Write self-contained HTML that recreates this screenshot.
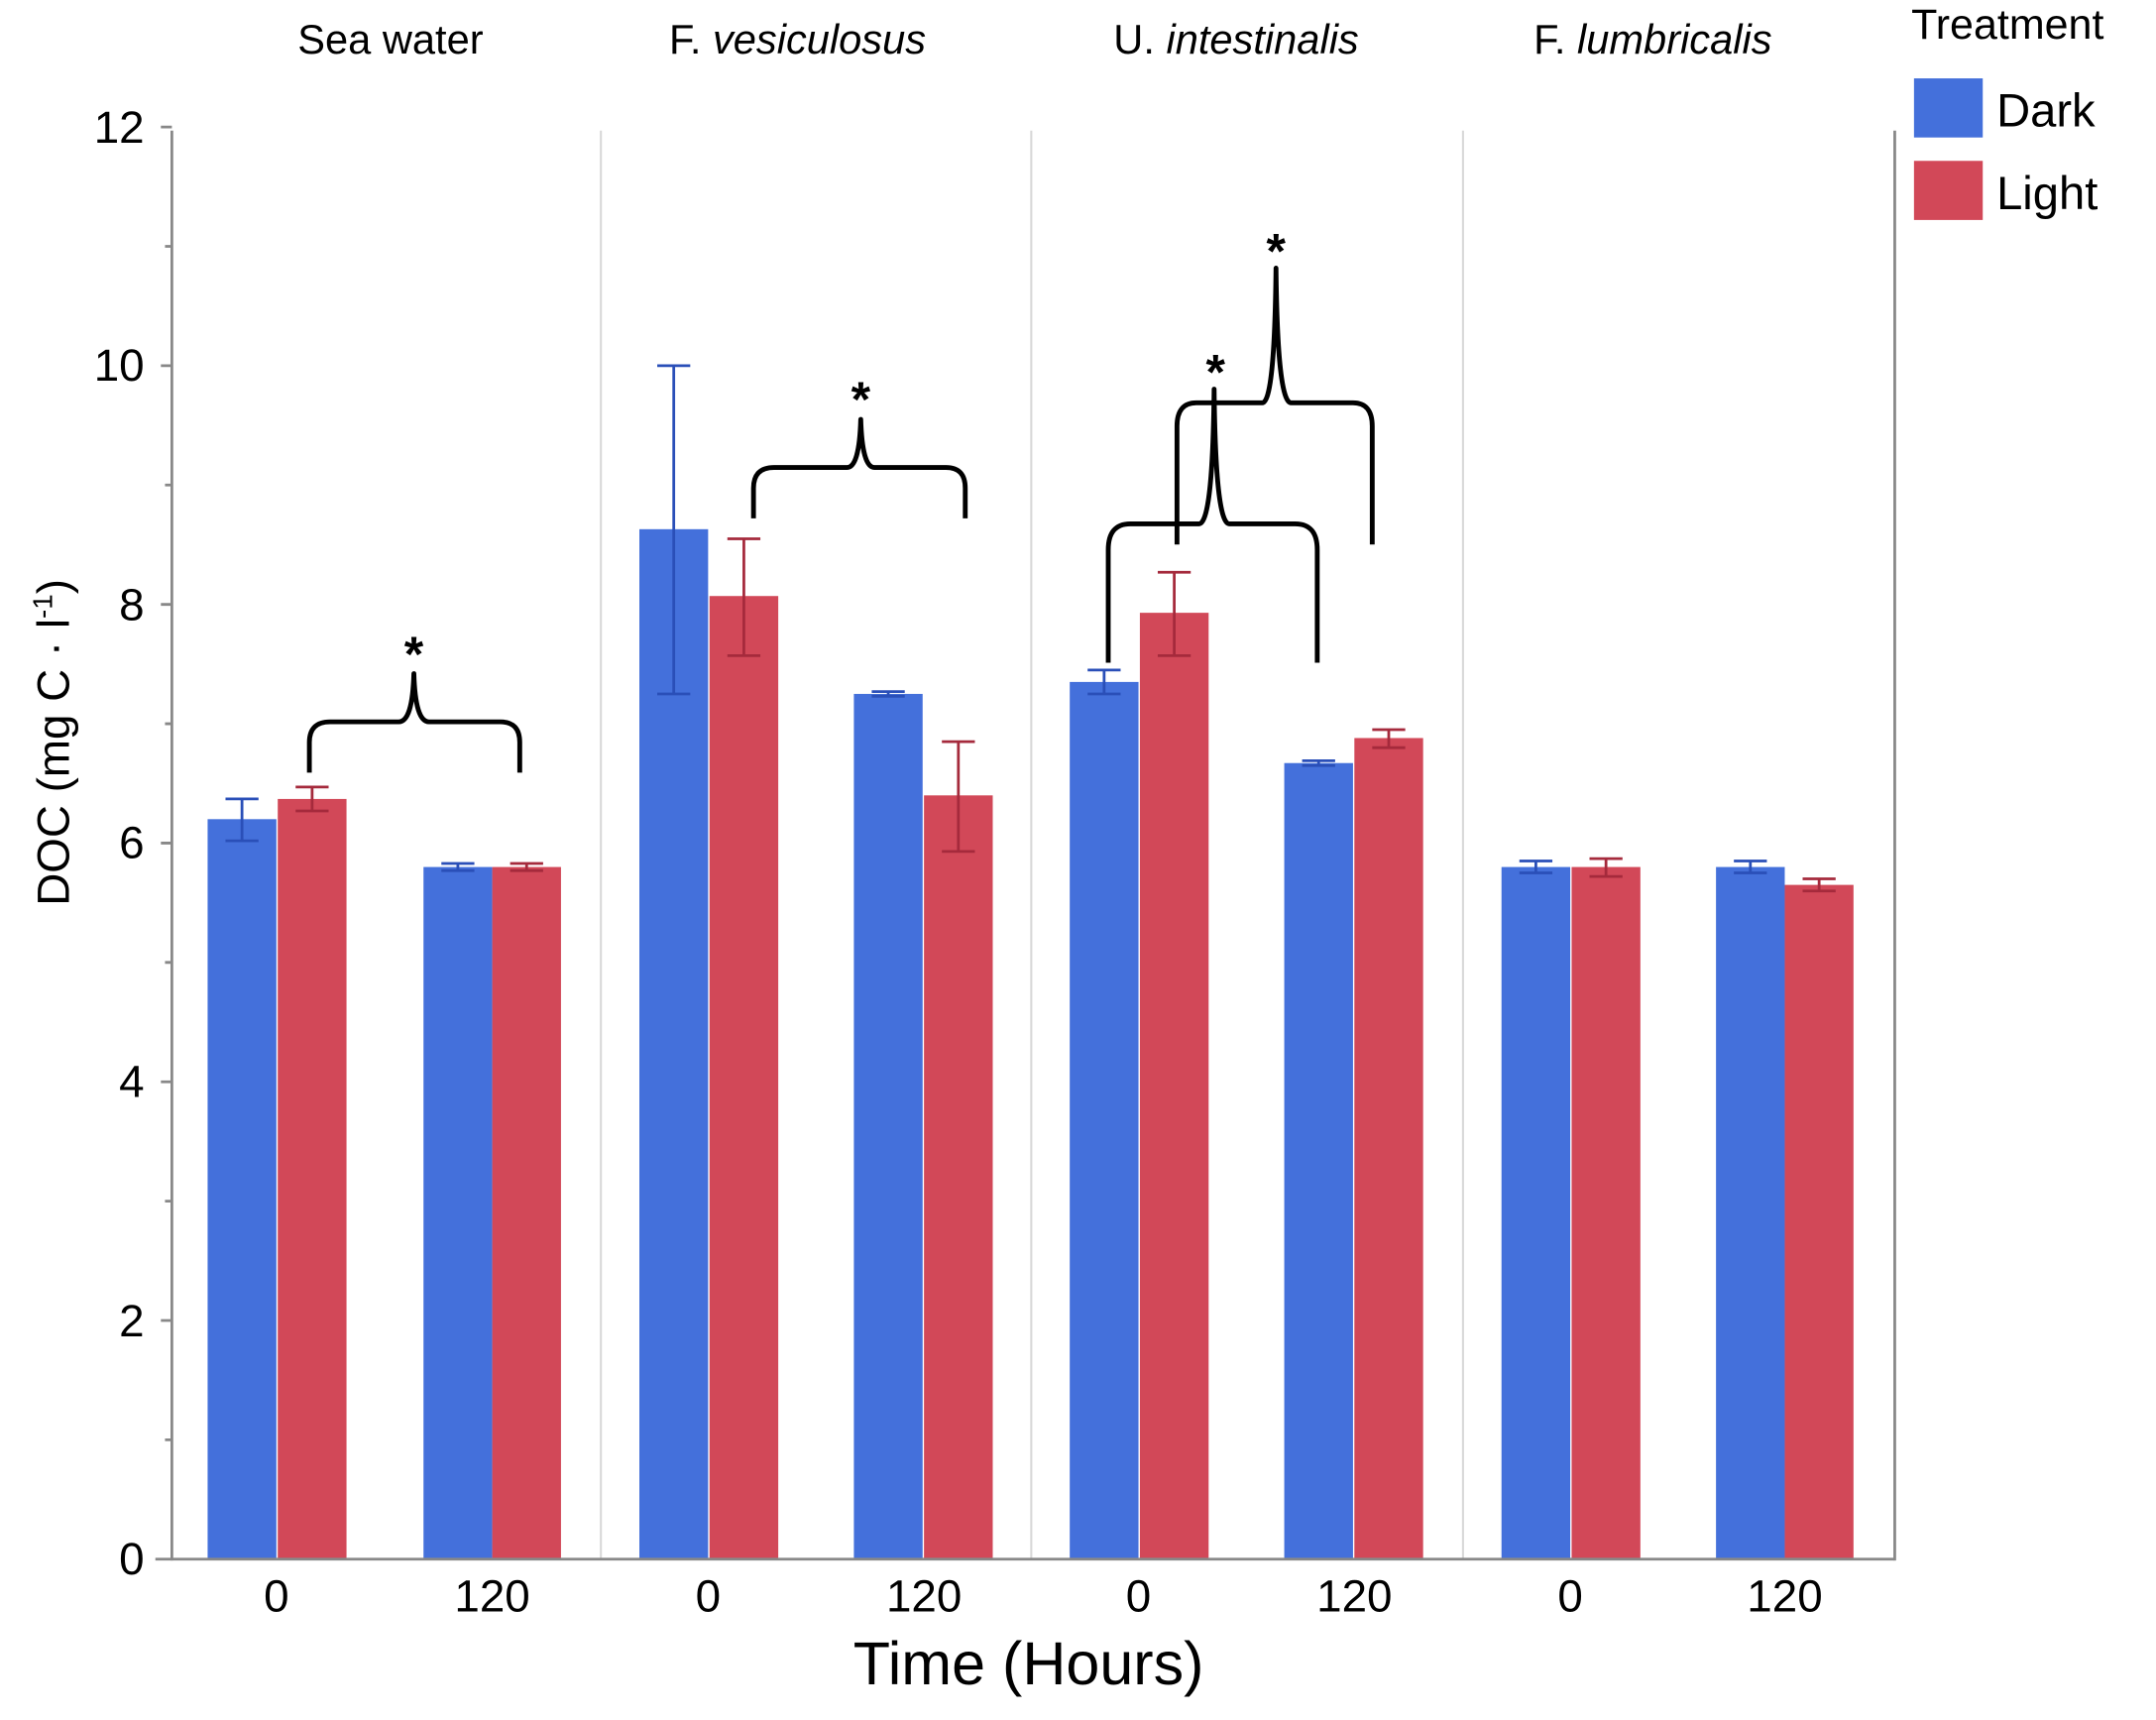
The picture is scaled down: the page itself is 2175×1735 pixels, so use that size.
<!DOCTYPE html>
<html><head><meta charset="utf-8"><style>
html,body{margin:0;padding:0;background:#fff}
svg{display:block}
text{font-family:"Liberation Sans",Arial,sans-serif;fill:#000}
</style></head><body>
<svg width="2175" height="1735" viewBox="0 0 1568 1251" preserveAspectRatio="none" xmlns="http://www.w3.org/2000/svg">
<g stroke="#d8d8d8" stroke-width="1.5">
<line x1="437" y1="95" x2="437" y2="1134"/>
<line x1="750" y1="95" x2="750" y2="1134"/>
<line x1="1064" y1="95" x2="1064" y2="1134"/>
</g>
<g fill="#4470DB">
<rect x="151" y="595.8" width="50" height="538.2"/>
<rect x="308" y="630.6" width="50" height="503.4"/>
<rect x="465" y="384.9" width="50" height="749.1"/>
<rect x="621" y="504.7" width="50" height="629.3"/>
<rect x="778" y="496" width="50" height="638"/>
<rect x="934" y="555" width="50" height="579"/>
<rect x="1092" y="630.6" width="50" height="503.4"/>
<rect x="1248" y="630.6" width="50" height="503.4"/>
</g>
<g fill="#D24858">
<rect x="202" y="581.1" width="50" height="552.9"/>
<rect x="358" y="630.6" width="50" height="503.4"/>
<rect x="516" y="433.5" width="50" height="700.5"/>
<rect x="672" y="578.5" width="50" height="555.5"/>
<rect x="829" y="445.7" width="50" height="688.3"/>
<rect x="985" y="536.8" width="50" height="597.2"/>
<rect x="1143" y="630.6" width="50" height="503.4"/>
<rect x="1298" y="643.6" width="50" height="490.4"/>
</g>
<g stroke="#2a4fb8" stroke-width="2" fill="none">
<path d="M176 611.5V581.1M164 611.5H188M164 581.1H188"/>
<path d="M333 633.2V628M321 633.2H345M321 628H345"/>
<path d="M490 504.7V266M478 504.7H502M478 266H502"/>
<path d="M646 506.4V503M634 506.4H658M634 503H658"/>
<path d="M803 504.7V487.3M791 504.7H815M791 487.3H815"/>
<path d="M959 556.8V553.3M947 556.8H971M947 553.3H971"/>
<path d="M1117 634.9V626.2M1105 634.9H1129M1105 626.2H1129"/>
<path d="M1273 634.9V626.2M1261 634.9H1285M1261 626.2H1285"/>
</g>
<g stroke="#a52a3c" stroke-width="2" fill="none">
<path d="M227 589.8V572.4M215 589.8H239M215 572.4H239"/>
<path d="M383 633.2V628M371 633.2H395M371 628H395"/>
<path d="M541 476.9V391.9M529 476.9H553M529 391.9H553"/>
<path d="M697 619.3V539.4M685 619.3H709M685 539.4H709"/>
<path d="M854 476.9V416.2M842 476.9H866M842 416.2H866"/>
<path d="M1010 543.8V530.7M998 543.8H1022M998 530.7H1022"/>
<path d="M1168 637.5V624.5M1156 637.5H1180M1156 624.5H1180"/>
<path d="M1323 648V639.2M1311 648H1335M1311 639.2H1335"/>
</g>
<g stroke="#888" stroke-width="2" fill="none">
<line x1="125" y1="95" x2="125" y2="1135"/>
<line x1="113" y1="1134" x2="1378" y2="1134"/>
<line x1="1378" y1="95" x2="1378" y2="1135"/>
<path d="M117 92.4H125M117 266H125M117 439.6H125M117 613.2H125M117 786.8H125M117 960.4H125"/>
<path d="M120 179.2H125M120 352.8H125M120 526.4H125M120 700H125M120 873.6H125M120 1047.2H125"/>
</g>
<g font-size="33" text-anchor="end">
<text x="105" y="104">12</text>
<text x="105" y="277">10</text>
<text x="105" y="451">8</text>
<text x="105" y="624">6</text>
<text x="105" y="798">4</text>
<text x="105" y="972">2</text>
<text x="105" y="1145">0</text>
</g>
<g font-size="33" text-anchor="middle">
<text x="201" y="1172">0</text><text x="358" y="1172">120</text>
<text x="515" y="1172">0</text><text x="672" y="1172">120</text>
<text x="828" y="1172">0</text><text x="985" y="1172">120</text>
<text x="1142" y="1172">0</text><text x="1298" y="1172">120</text>
</g>
<text x="748" y="1225" font-size="44" text-anchor="middle">Time (Hours)</text>
<text transform="translate(50 540) rotate(-90)" font-size="33" text-anchor="middle">DOC  (mg C · l<tspan font-size="20" dy="-12">-1</tspan><tspan dy="12">)</tspan></text>
<g font-size="30" text-anchor="middle">
<text x="284" y="39">Sea water</text>
<text x="580" y="39">F. <tspan font-style="italic">vesiculosus</tspan></text>
<text x="899" y="39">U. <tspan font-style="italic">intestinalis</tspan></text>
<text x="1202" y="39">F. <tspan font-style="italic">lumbricalis</tspan></text>
</g>
<text x="1390" y="28" font-size="31">Treatment</text>
<rect x="1392" y="57" width="50" height="43" fill="#4470DB"/>
<rect x="1392" y="117" width="50" height="43" fill="#D24858"/>
<text x="1452" y="92" font-size="34">Dark</text>
<text x="1452" y="152" font-size="34">Light</text>
<g stroke="#000" stroke-width="3.5" fill="none" stroke-linejoin="round">
<path d="M225 562V540Q225 525 240 525H290Q300 525 301 490Q302 525 312 525H364Q378 525 378 540V562"/>
<path d="M548 377V355Q548 340 563 340H616Q625 340 626 305Q627 340 636 340H688Q702 340 702 355V377"/>
<path d="M806 482V400Q806 381 822 381H872Q882 381 883 283Q884 381 894 381H942Q958 381 958 400V482"/>
<path d="M856 396V310Q856 293 870 293H918Q927 293 928 195Q929 293 939 293H984Q998 293 998 310V396"/>
</g>
<g font-size="36" font-weight="bold" text-anchor="middle">
<text x="301" y="488">*</text>
<text x="626" y="303">*</text>
<text x="884" y="283">*</text>
<text x="928" y="195">*</text>
</g>
</svg>
</body></html>
